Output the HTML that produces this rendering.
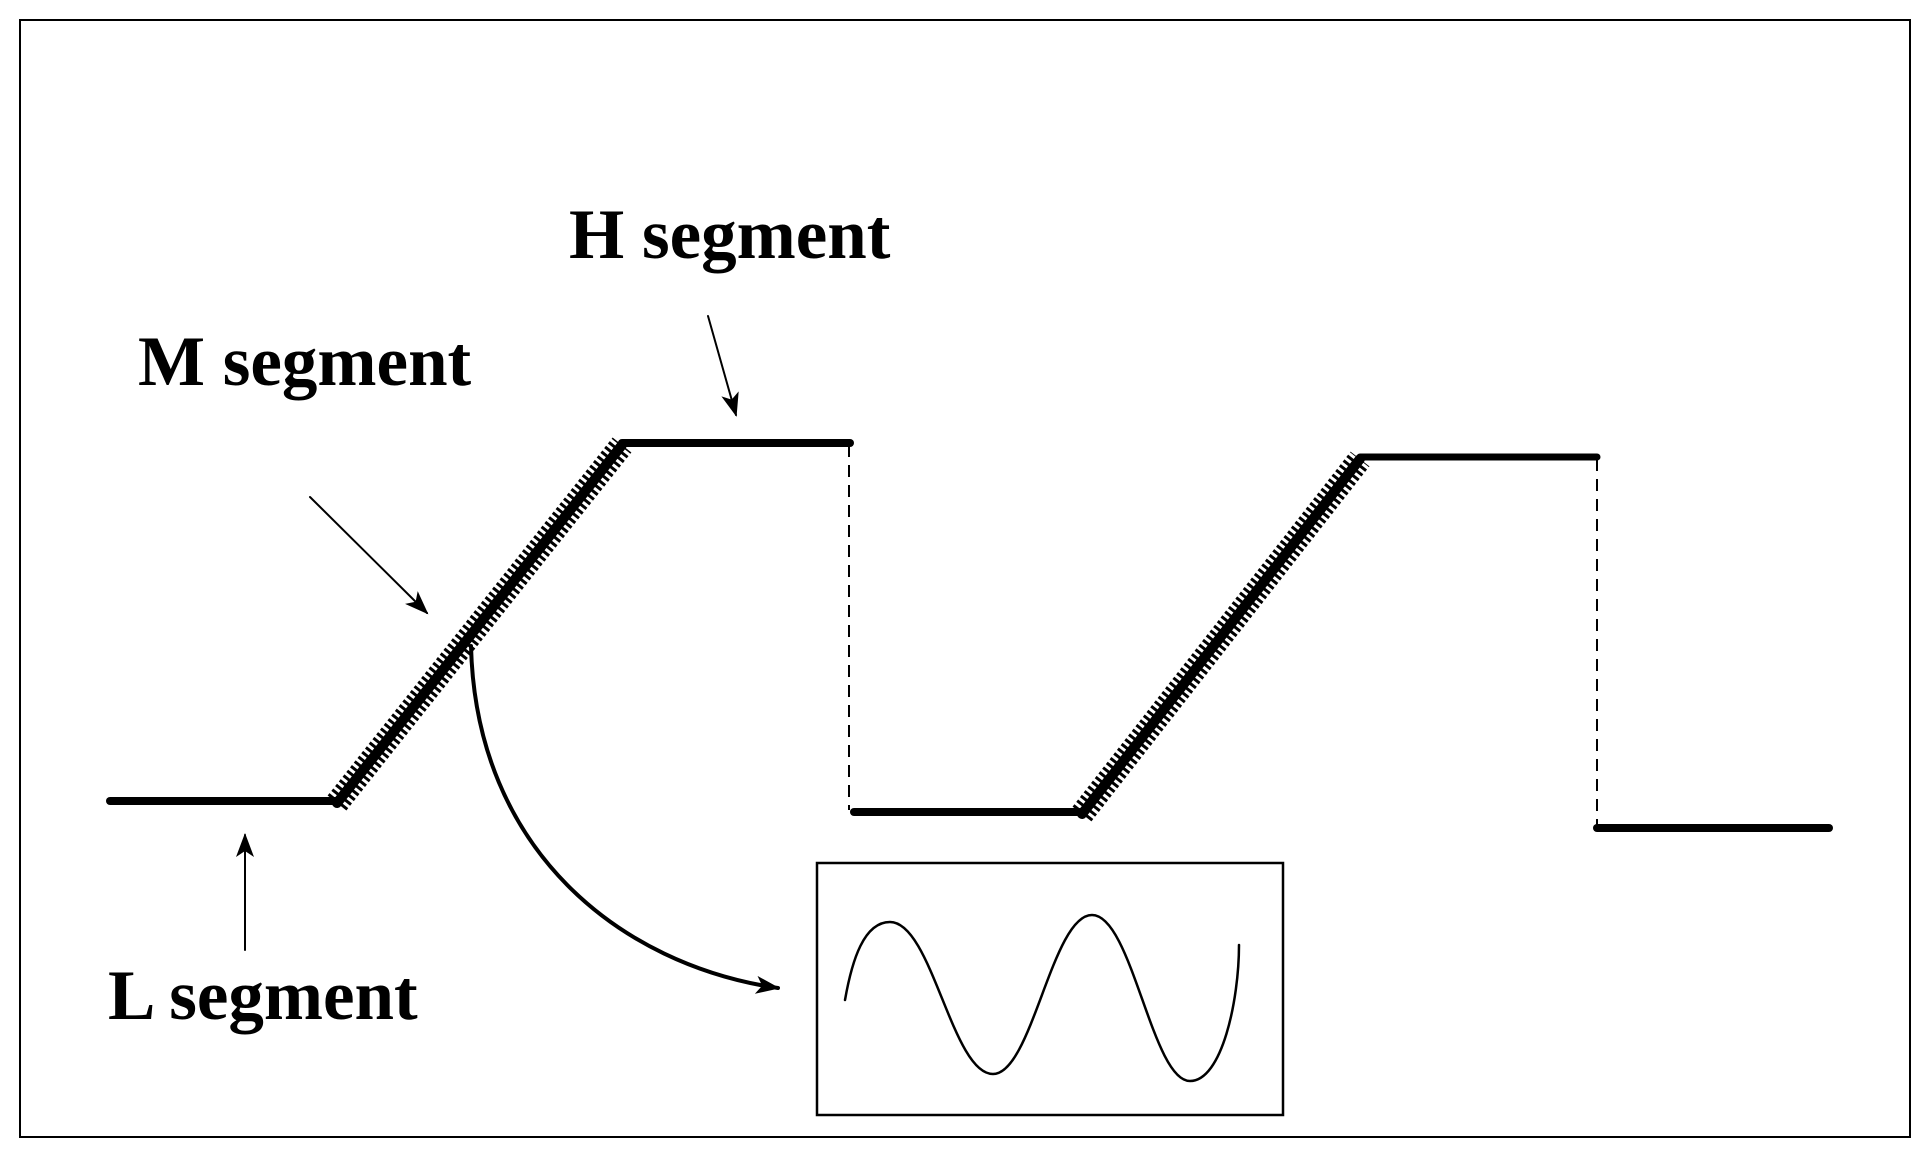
<!DOCTYPE html>
<html><head><style>
html,body{margin:0;padding:0;background:#fff;}
svg{display:block;}
text{font-family:"Liberation Serif",serif;font-weight:bold;font-size:71px;fill:#000;}
</style></head><body>
<svg width="1930" height="1158" viewBox="0 0 1930 1158" xmlns="http://www.w3.org/2000/svg">
<defs>
<marker id="b" markerWidth="24" markerHeight="18" refX="22" refY="9" orient="auto" markerUnits="userSpaceOnUse">
<path d="M0,0 L24,9 L0,18 L6,9 Z" fill="#000"/></marker>
</defs>
<rect x="20" y="20" width="1890" height="1117" fill="none" stroke="#000" stroke-width="2"/>
<g stroke="#000" fill="none" stroke-linecap="round">
<line x1="110" y1="801" x2="335" y2="801" stroke-width="8"/>
<line x1="622" y1="443" x2="850" y2="443" stroke-width="8"/>
<line x1="854" y1="812" x2="1080" y2="812" stroke-width="8"/>
<line x1="1360" y1="457" x2="1597" y2="457" stroke-width="7"/>
<line x1="1597" y1="828" x2="1829" y2="828" stroke-width="8"/>
<line x1="849" y1="445" x2="849" y2="810" stroke-width="2" stroke-dasharray="12,8" stroke-linecap="butt"/>
<line x1="1597" y1="459" x2="1597" y2="826" stroke-width="2" stroke-dasharray="12,8" stroke-linecap="butt"/>
<line x1="337" y1="803" x2="622" y2="445" stroke-width="24" stroke-dasharray="3,3" stroke-linecap="butt"/>
<line x1="337" y1="803" x2="622" y2="445" stroke-width="10"/>
<line x1="1082" y1="814" x2="1360" y2="459" stroke-width="24" stroke-dasharray="3,3" stroke-linecap="butt"/>
<line x1="1082" y1="814" x2="1360" y2="459" stroke-width="10"/>
<line x1="708" y1="316" x2="736" y2="415" stroke-width="2" marker-end="url(#b)"/>
<line x1="310" y1="497" x2="427" y2="613" stroke-width="2" marker-end="url(#b)"/>
<line x1="245" y1="950" x2="245" y2="835" stroke-width="2" marker-end="url(#b)"/>
<path d="M471,646 C476,850 620,965 778,988" stroke-width="4" marker-end="url(#b)"/>
<rect x="817" y="863" width="466" height="252" stroke-width="2.5"/>
<path d="M845,1000 C852,960 864,922 890,922 C932,922 952,1074 993,1074 C1032,1074 1052,915 1092,915 C1132,915 1152,1081 1190,1081 C1222,1081 1239,1000 1239,945" stroke-width="2.5"/>
</g>
<text x="569" y="258">H segment</text>
<text x="138" y="385">M segment</text>
<text x="108" y="1019">L segment</text>
</svg>
</body></html>
